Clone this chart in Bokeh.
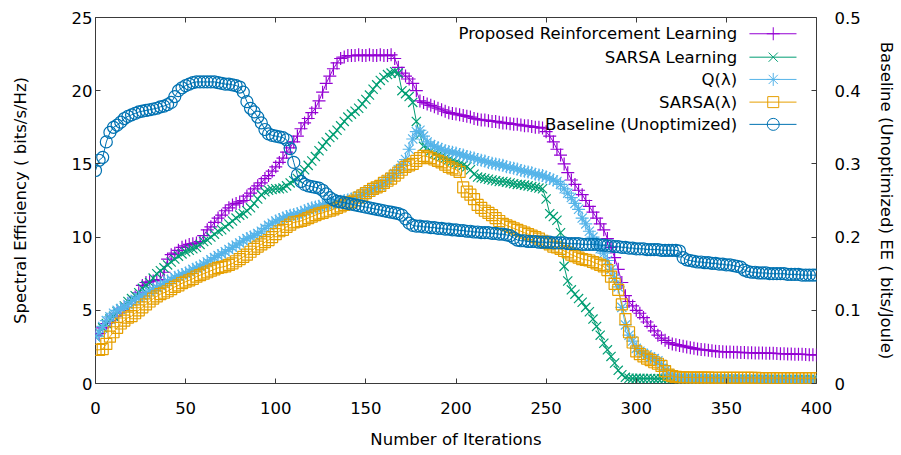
from bokeh.plotting import figure
from bokeh.models import LinearAxis, Range1d, FixedTicker, Label
from bokeh.embed import file_html
from bokeh.resources import INLINE

# ---------------- data (every 2nd iteration) ----------------
iterations = list(range(0, 401, 2))

proposed_rl = [
    3.3, 3.4, 3.8, 4.1, 4.3, 4.6, 4.8, 5.0, 5.2, 5.4,
    5.6, 5.9, 6.2, 6.7, 6.9, 6.95, 7.0, 7.05, 7.1, 7.6,
    8.5, 8.8, 8.9, 9.1, 9.3, 9.4, 9.5, 9.55, 9.6, 9.7,
    10.1, 10.5, 10.7, 11.0, 11.3, 11.5, 11.8, 12.0, 12.2, 12.3,
    12.4, 12.5, 12.8, 13.0, 13.3, 13.5, 13.7, 14.0, 14.2, 14.5,
    14.8, 15.1, 15.4, 15.8, 16.1, 16.5, 16.9, 17.4, 17.8, 18.1,
    18.5, 18.8, 19.3, 19.9, 20.5, 21.0, 21.5, 21.9, 22.2, 22.3,
    22.4, 22.4, 22.4, 22.45, 22.4, 22.4, 22.45, 22.4, 22.4, 22.45,
    22.4, 22.4, 22.45, 22.2, 21.6, 21.2, 21.0, 20.8, 20.5, 20.0,
    19.3, 19.2, 19.1, 19.0, 18.9, 18.8, 18.7, 18.6, 18.5, 18.45,
    18.4, 18.35, 18.3, 18.25, 18.2, 18.1, 18.05, 18.0, 18.0, 17.95,
    17.9, 17.9, 17.85, 17.8, 17.8, 17.75, 17.7, 17.7, 17.65, 17.6,
    17.6, 17.55, 17.5, 17.5, 17.45, 17.2, 16.9, 16.5, 16.0, 15.6,
    15.0, 14.4, 13.9, 13.6, 13.2, 12.9, 12.5, 12.1, 11.7, 11.3,
    10.9, 10.5, 9.9, 9.3, 8.6, 7.8, 6.9, 6.0, 5.6, 5.3,
    5.0, 4.8, 4.5, 4.2, 3.9, 3.6, 3.3, 3.1, 2.95, 2.8,
    2.7, 2.65, 2.6, 2.55, 2.5, 2.45, 2.4, 2.35, 2.32, 2.3,
    2.27, 2.24, 2.2, 2.18, 2.17, 2.16, 2.15, 2.14, 2.13, 2.12,
    2.11, 2.1, 2.1, 2.09, 2.08, 2.08, 2.07, 2.07, 2.06, 2.05,
    2.04, 2.03, 2.02, 2.01, 2.0, 2.0, 1.99, 1.98, 1.97, 1.96,
    1.95,
]

sarsa_learning = [
    3.2, 3.5, 3.8, 4.1, 4.4, 4.6, 4.9, 5.1, 5.3, 5.6,
    5.8, 6.0, 6.2, 6.5, 6.7, 6.9, 7.2, 7.5, 7.7, 7.9,
    8.1, 8.3, 8.5, 8.7, 8.85, 9.0, 9.1, 9.2, 9.3, 9.5,
    9.7, 9.8, 10.0, 10.2, 10.4, 10.5, 10.7, 10.9, 11.1, 11.3,
    11.5, 11.6, 11.8, 12.0, 12.3, 12.6, 12.9, 13.1, 13.2, 13.25,
    13.3, 13.3, 13.35, 13.5, 13.7, 13.85, 14.0, 14.3, 14.6, 14.9,
    15.2, 15.5, 15.9, 16.2, 16.5, 16.8, 17.0, 17.3, 17.6, 17.9,
    18.2, 18.4, 18.6, 18.8, 19.1, 19.4, 19.7, 20.1, 20.4, 20.7,
    20.9, 21.1, 21.2, 21.3, 21.2, 20.0, 19.8, 19.6, 19.2, 17.9,
    17.0, 16.2, 16.1, 15.9, 15.7, 15.6, 15.5, 15.4, 15.3, 15.2,
    15.1, 15.0, 14.9, 14.8, 14.6, 14.3, 14.1, 14.05, 14.0, 13.95,
    13.9, 13.85, 13.8, 13.8, 13.75, 13.7, 13.65, 13.6, 13.6, 13.55,
    13.5, 13.45, 13.4, 13.35, 13.3, 12.6, 11.6, 11.4, 11.15, 10.3,
    8.0, 7.0, 6.4, 6.1, 5.8, 5.55, 5.2, 4.9, 4.4, 3.9,
    3.3, 2.75, 2.3, 1.85, 1.4, 0.9, 0.6, 0.42, 0.36, 0.35,
    0.35, 0.35, 0.34, 0.34, 0.34, 0.33, 0.33, 0.33, 0.32, 0.32,
    0.32, 0.31, 0.31, 0.31, 0.3, 0.3, 0.3, 0.3, 0.3, 0.29,
    0.29, 0.29, 0.29, 0.29, 0.29, 0.29, 0.29, 0.29, 0.29, 0.29,
    0.28, 0.28, 0.28, 0.28, 0.28, 0.28, 0.28, 0.28, 0.28, 0.28,
    0.28, 0.28, 0.27, 0.27, 0.27, 0.27, 0.27, 0.27, 0.27, 0.27,
    0.27,
]

q_lambda = [
    3.2, 3.5, 3.9, 4.3, 4.55, 4.8, 5.0, 5.1, 5.2, 5.4,
    5.6, 5.75, 5.9, 6.0, 6.15, 6.3, 6.4, 6.55, 6.7, 6.85,
    7.0, 7.1, 7.25, 7.35, 7.45, 7.55, 7.65, 7.8, 7.9, 8.0,
    8.15, 8.3, 8.45, 8.6, 8.75, 8.85, 9.0, 9.15, 9.3, 9.45,
    9.6, 9.75, 9.9, 10.0, 10.1, 10.25, 10.4, 10.6, 10.8, 10.95,
    11.1, 11.2, 11.3, 11.4, 11.5, 11.55, 11.6, 11.7, 11.8, 11.9,
    12.0, 12.05, 12.1, 12.2, 12.25, 12.3, 12.35, 12.4, 12.45, 12.5,
    12.55, 12.6, 12.7, 12.8, 12.9, 13.0, 13.15, 13.3, 13.4, 13.5,
    13.7, 13.9, 14.1, 14.35, 14.6, 14.9, 15.3, 16.0, 16.7, 17.2,
    17.3, 16.9, 16.5, 16.3, 16.2, 16.1, 16.0, 15.9, 15.85, 15.8,
    15.75, 15.65, 15.6, 15.5, 15.45, 15.4, 15.3, 15.25, 15.2, 15.1,
    15.05, 15.0, 14.95, 14.9, 14.8, 14.75, 14.7, 14.65, 14.55, 14.5,
    14.45, 14.4, 14.3, 14.25, 14.2, 14.1, 14.0, 13.9, 13.8, 13.6,
    13.3, 13.0, 12.7, 12.3, 11.9, 11.3, 10.9, 10.4, 10.0, 9.6,
    9.2, 8.9, 8.4, 7.8, 7.2, 6.6, 5.2, 4.0, 3.3, 2.9,
    2.4, 2.2, 2.05, 1.95, 1.8, 1.7, 1.55, 1.3, 0.9, 0.65,
    0.55, 0.45, 0.38, 0.32, 0.3, 0.28, 0.27, 0.26, 0.25, 0.24,
    0.23, 0.23, 0.22, 0.22, 0.21, 0.21, 0.2, 0.2, 0.2, 0.19,
    0.19, 0.19, 0.18, 0.18, 0.18, 0.17, 0.17, 0.17, 0.17, 0.16,
    0.16, 0.16, 0.16, 0.16, 0.16, 0.15, 0.15, 0.15, 0.15, 0.15,
    0.15,
]

sarsa_lambda = [
    2.3, 2.3, 2.35, 2.7, 3.2, 3.5, 3.8, 4.1, 4.3, 4.5,
    4.6, 4.8, 5.0, 5.2, 5.4, 5.6, 5.8, 5.95, 6.1, 6.2,
    6.3, 6.45, 6.6, 6.7, 6.85, 6.95, 7.05, 7.15, 7.3, 7.4,
    7.5, 7.6, 7.7, 7.8, 7.9, 7.95, 8.0, 8.1, 8.2, 8.35,
    8.5, 8.65, 8.8, 9.0, 9.2, 9.35, 9.5, 9.65, 9.8, 10.0,
    10.2, 10.4, 10.5, 10.7, 10.85, 11.0, 11.05, 11.1, 11.2, 11.3,
    11.4, 11.5, 11.6, 11.65, 11.75, 11.8, 11.9, 12.0, 12.1, 12.2,
    12.3, 12.4, 12.5, 12.7, 12.85, 13.0, 13.15, 13.3, 13.4, 13.5,
    13.7, 13.85, 14.0, 14.2, 14.4, 14.6, 14.8, 14.9, 15.0, 15.2,
    15.4, 15.55, 15.5, 15.4, 15.3, 15.2, 15.1, 14.95, 14.8, 14.7,
    14.6, 14.45, 13.4, 13.1, 12.9, 12.6, 12.2, 12.0, 11.8, 11.65,
    11.5, 11.3, 11.1, 10.9, 10.8, 10.7, 10.6, 10.5, 10.4, 10.3,
    10.2, 10.1, 10.0, 9.9, 9.75, 9.6, 9.5, 9.35, 9.3, 9.2,
    9.05, 8.95, 8.8, 8.7, 8.6, 8.5, 8.45, 8.4, 8.3, 8.2,
    8.1, 8.0, 7.75, 7.3, 6.8, 6.4, 5.4, 4.4, 3.5, 2.8,
    2.2, 2.0, 1.85, 1.7, 1.6, 1.45, 1.35, 1.2, 0.85, 0.6,
    0.5, 0.45, 0.42, 0.42, 0.41, 0.41, 0.4, 0.4, 0.4, 0.4,
    0.4, 0.39, 0.39, 0.39, 0.39, 0.39, 0.39, 0.38, 0.38, 0.38,
    0.38, 0.38, 0.38, 0.38, 0.37, 0.37, 0.37, 0.37, 0.37, 0.37,
    0.37, 0.37, 0.37, 0.36, 0.36, 0.36, 0.36, 0.36, 0.36, 0.36,
    0.36,
]

baseline_ee = [
    0.291, 0.305, 0.309, 0.33, 0.343, 0.35, 0.353, 0.357, 0.362, 0.365,
    0.367, 0.369, 0.371, 0.372, 0.373, 0.374, 0.375, 0.376, 0.378, 0.379,
    0.381, 0.384, 0.392, 0.4, 0.404, 0.407, 0.409, 0.411, 0.412, 0.412,
    0.412, 0.412, 0.412, 0.412, 0.411, 0.41, 0.409, 0.409, 0.408, 0.407,
    0.405, 0.398, 0.385, 0.376, 0.371, 0.364, 0.356, 0.347, 0.341, 0.339,
    0.338, 0.337, 0.336, 0.333, 0.321, 0.302, 0.285, 0.276, 0.272, 0.27,
    0.269, 0.268, 0.267, 0.264, 0.259, 0.254, 0.251, 0.249, 0.248, 0.247,
    0.246, 0.245, 0.244, 0.243, 0.242, 0.241, 0.24, 0.239, 0.238, 0.237,
    0.236, 0.235, 0.234, 0.233, 0.232, 0.23, 0.225, 0.219, 0.216, 0.215,
    0.215, 0.214, 0.214, 0.213, 0.213, 0.212, 0.212, 0.211, 0.211, 0.21,
    0.21, 0.209, 0.209, 0.208, 0.208, 0.207, 0.207, 0.206, 0.206, 0.206,
    0.205, 0.205, 0.204, 0.204, 0.203, 0.202, 0.199, 0.196, 0.195, 0.195,
    0.194, 0.194, 0.194, 0.193, 0.193, 0.193, 0.193, 0.192, 0.192, 0.192,
    0.192, 0.191, 0.191, 0.191, 0.191, 0.19, 0.19, 0.19, 0.19, 0.19,
    0.189, 0.189, 0.188, 0.188, 0.187, 0.187, 0.186, 0.186, 0.185, 0.185,
    0.184, 0.184, 0.184, 0.183, 0.183, 0.183, 0.183, 0.182, 0.182, 0.182,
    0.182, 0.182, 0.181, 0.172, 0.169, 0.168, 0.167, 0.166, 0.166, 0.165,
    0.165, 0.164, 0.164, 0.163, 0.163, 0.162, 0.162, 0.161, 0.16, 0.159,
    0.155, 0.153, 0.152, 0.152, 0.151, 0.151, 0.151, 0.15, 0.15, 0.15,
    0.15, 0.15, 0.149, 0.149, 0.149, 0.149, 0.148, 0.148, 0.148, 0.148,
    0.148,
]

series_names = ["Proposed Reinforcement Learning", "SARSA Learning",
                "Q(\u03bb)", "SARSA(\u03bb)", "Baseline (Unoptimized)"]
series_colors = ["#9400d3", "#009e73", "#56b4e9", "#e69f00", "#0072b2"]
series_markers = ["cross", "x", "asterisk", "square", "circle"]
series_sizes = [13, 13, 13, 11, 12]

x_ticks = [0, 50, 100, 150, 200, 250, 300, 350, 400]
y_ticks = [0, 5, 10, 15, 20, 25]
y2_ticks = [0, 0.1, 0.2, 0.3, 0.4, 0.5]
y2_tick_labels = ["0", "0.1", "0.2", "0.3", "0.4", "0.5"]

x_title = "Number of Iterations"
y_title = "Spectral Efficiency ( bits/s/Hz)"
y2_title = "Baseline (Unoptimized) EE ( bits/Joule)"

# ---------------- figure ----------------
FONT = "DejaVu Sans"
FS = "16.5px"
AXC = "#3a3a3a"

p = figure(width=900, height=454, output_backend="svg", toolbar_location=None,
           x_range=Range1d(0, 400), y_range=Range1d(0, 25),
           min_border_left=95, min_border_right=84, min_border_top=17,
           min_border_bottom=71)
p.extra_y_ranges = {"ee": Range1d(0, 0.5)}
p.grid.visible = False
p.outline_line_color = AXC
p.outline_line_width = 1
p.background_fill_color = "white"
p.border_fill_color = "white"


def style_axis(ax, standoff, label_standoff=10):
    ax.axis_line_color = None
    ax.major_tick_in = 5
    ax.major_tick_out = 0
    ax.minor_tick_line_color = None
    ax.major_tick_line_color = AXC
    ax.major_label_text_font = FONT
    ax.major_label_text_font_size = FS
    ax.major_label_text_color = "black"
    ax.major_label_standoff = standoff
    ax.axis_label_text_font = FONT
    ax.axis_label_text_font_size = FS
    ax.axis_label_text_font_style = "normal"
    ax.axis_label_text_color = "black"
    ax.axis_label_standoff = label_standoff


xax = p.xaxis[0]
xax.ticker = FixedTicker(ticks=x_ticks)
xax.axis_label = x_title
style_axis(xax, 18, 13)

yax = p.yaxis[0]
yax.ticker = FixedTicker(ticks=y_ticks)
yax.axis_label = y_title
style_axis(yax, 3, 39)

y2ax = LinearAxis(y_range_name="ee", ticker=FixedTicker(ticks=y2_ticks),
                  axis_label=y2_title)
y2ax.major_label_overrides = {t: s for t, s in zip(y2_ticks, y2_tick_labels)}
style_axis(y2ax, 18, 13)
p.add_layout(y2ax, "right")

top = LinearAxis(ticker=FixedTicker(ticks=x_ticks))
style_axis(top, 0, 0)
top.major_label_text_font_size = "0px"
top.major_label_text_alpha = 0
p.add_layout(top, "above")

all_series = [proposed_rl, sarsa_learning, q_lambda, sarsa_lambda, baseline_ee]
for i, ys in enumerate(all_series):
    kw = {"y_range_name": "ee"} if i == 4 else {}
    c = series_colors[i]
    p.line(iterations, ys, line_color=c, line_width=1, **kw)
    p.scatter(iterations, ys, marker=series_markers[i], size=series_sizes[i],
              line_color=c, fill_color=None, line_width=1.2, **kw)

# ---------------- legend (gnuplot style: text, then sample) ----------------
leg_text_x = 356
leg_line_x = [362.8, 388.9]
leg_mark_x = 376
leg_rows_y = [23.89, 22.29, 20.77, 19.22, 17.70]
for i, name in enumerate(series_names):
    yy = leg_rows_y[i]
    p.add_layout(Label(x=leg_text_x, y=yy, text=name, text_align="right",
                       text_baseline="middle", text_font=FONT,
                       text_font_size=FS, text_color="black"))
    p.line(leg_line_x, [yy, yy], line_color=series_colors[i], line_width=1)
    p.scatter([leg_mark_x], [yy], marker=series_markers[i], size=series_sizes[i],
              line_color=series_colors[i], fill_color=None, line_width=1)

open("out.html", "w").write(file_html(p, INLINE))
